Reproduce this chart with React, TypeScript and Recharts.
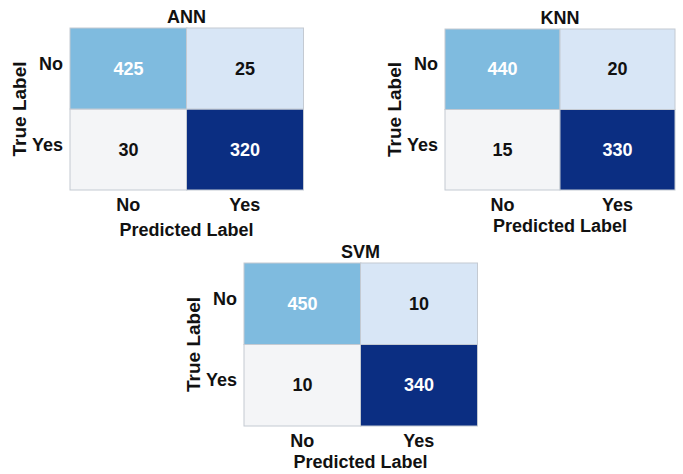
import { BarChart, Bar, XAxis, YAxis, LabelList } from 'recharts';

// predicted label categories (columns)
const predicted = ['No', 'Yes'];
// true label rows: "No" row on top, "Yes" row at the bottom
const rowTicks = [0.5, 1.5];

// counts, row "true No" and row "true Yes"
const annTrueNo = [425, 25];
const annTrueYes = [30, 320];
const knnTrueNo = [440, 20];
const knnTrueYes = [15, 330];
const svmTrueNo = [450, 10];
const svmTrueYes = [10, 340];

const FONT = '"Liberation Sans", Arial, sans-serif';

// cell fills by position [col]
const noRowFill = ['#7fbbdf', '#d8e6f6'];
const yesRowFill = ['#f4f5f7', '#0b2e82'];
const noRowText = ['#ffffff', '#111111'];
const yesRowText = ['#111111', '#ffffff'];

function buildRows(trueNo: number[], trueYes: number[]) {
  return predicted.map((p, i) => ({
    pred: p,
    // each row spans one unit of the y scale
    rowYes: 1,
    rowNo: 1,
    noCount: trueNo[i],
    yesCount: trueYes[i],
  }));
}

const cellLabel = (colors: string[]) => (props: any) => {
  const { x, y, width, height, value, index } = props;
  return (
    <text
      x={Number(x) + Number(width) / 2}
      y={Number(y) + Number(height) / 2}
      textAnchor="middle"
      dominantBaseline="central"
      fill={colors[index]}
      fontFamily={FONT}
      fontWeight="bold"
      fontSize={18}
    >
      {value}
    </text>
  );
};

const YTick = (props: any) => {
  const { x, y, payload } = props;
  return (
    <text x={x + 1} y={y - 5} textAnchor="end" dominantBaseline="central"
      fontFamily={FONT} fontWeight="bold" fontSize={18} fill="#111">
      {payload.value < 1 ? 'Yes' : 'No'}
    </text>
  );
};

interface MatrixProps {
  title: string;
  trueNo: number[];
  trueYes: number[];
  x0: number; // plot left in page coords
  y0: number; // plot top
  w: number;
  h: number;
  xh: number; // x axis band height (ticks + "Predicted Label")
}

function Matrix({ title, trueNo, trueYes, x0, y0, w, h, xh }: MatrixProps) {
  const data = buildRows(trueNo, trueYes);
  const left = 70;
  const top = 29;
  const width = w + left + 5;
  const height = h + top + xh + 4;
  const tickStyle = { fontFamily: FONT, fontWeight: 'bold', fontSize: 18, fill: '#111' };

  return (
    <div style={{ position: 'absolute', left: x0 - left, top: y0 - top, width, height }}>
      <div
        style={{
          position: 'absolute',
          left,
          top: 8,
          width: w,
          textAlign: 'center',
          fontFamily: FONT,
          fontWeight: 'bold',
          fontSize: 18,
          color: '#111',
          lineHeight: '20px',
        }}
      >
        {title}
      </div>
      <BarChart
        width={width}
        height={height}
        data={data}
        margin={{ top, right: 5, bottom: 4, left: 15 }}
        barCategoryGap={0}
        barGap={0}
      >
        <XAxis
          dataKey="pred"
          axisLine={false}
          tickLine={false}
          height={xh}
          tick={tickStyle}
          label={{
            value: 'Predicted Label',
            position: 'insideBottom',
            offset: 0,
            style: { fontFamily: FONT, fontWeight: 'bold', fontSize: 18, fill: '#111' },
          }}
        />
        <YAxis
          type="number"
          domain={[0, 2]}
          ticks={rowTicks}
          axisLine={false}
          tickLine={false}
          width={55}
          tick={<YTick />}
          label={{
            value: 'True Label',
            angle: -90,
            position: 'insideLeft',
            offset: 4,
            style: { fontFamily: FONT, fontWeight: 'bold', fontSize: 19, fill: '#111', textAnchor: 'middle' },
          }}
        />
        <Bar dataKey="rowYes" stackId="m" isAnimationActive={false}
          shape={(p: any) => (
            <rect x={p.x} y={p.y} width={p.width} height={p.height} fill={yesRowFill[p.index]} stroke="#c4cad2" />
          )}
        >
          <LabelList dataKey="yesCount" content={cellLabel(yesRowText)} />
        </Bar>
        <Bar dataKey="rowNo" stackId="m" isAnimationActive={false}
          shape={(p: any) => (
            <rect x={p.x} y={p.y} width={p.width} height={p.height} fill={noRowFill[p.index]} stroke="#c4cad2" />
          )}
        >
          <LabelList dataKey="noCount" content={cellLabel(noRowText)} />
        </Bar>
      </BarChart>
    </div>
  );
}

export default function App() {
  return (
    <div style={{ position: 'absolute', left: 0, top: 0, width: 683, height: 474, background: '#fff' }}>
      <Matrix title="ANN" trueNo={annTrueNo} trueYes={annTrueYes} x0={70} y0={28} w={233} h={162} xh={46} />
      <Matrix title="KNN" trueNo={knnTrueNo} trueYes={knnTrueYes} x0={445} y0={29} w={230} h={161} xh={42} />
      <Matrix title="SVM" trueNo={svmTrueNo} trueYes={svmTrueYes} x0={244} y0={263} w={233} h={163} xh={42} />
    </div>
  );
}
